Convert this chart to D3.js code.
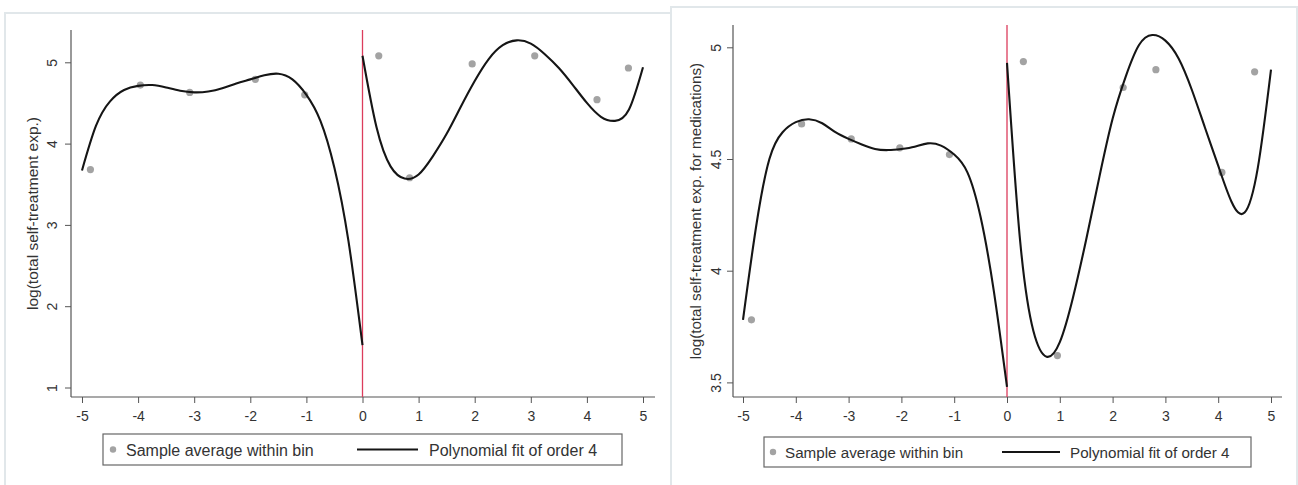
<!DOCTYPE html>
<html>
<head>
<meta charset="utf-8">
<script src="https://cdn.jsdelivr.net/npm/d3@7"></script>
<style>
    body { margin: 0; background: #fff; }
    svg text { font-family: "Liberation Sans", Arial, Helvetica, sans-serif; fill: #333; }
</style>
</head>
<body>
<svg id="chart" width="1298" height="485"></svg>
<script>

// ---- data ----

const xTicks = [-5, -4, -3, -2, -1, 0, 1, 2, 3, 4, 5];
const legendLabels = ["Sample average within bin", "Polynomial fit of order 4"];

// grid where the fitted curves were read
const fitXBelow = [-5, -4.75, -4.5, -4.25, -4, -3.75, -3.5, -3.25, -3, -2.75, -2.5,
    -2.25, -2, -1.75, -1.5, -1.25, -1, -0.75, -0.5, -0.25, 0];
const fitXAbove = [0, 0.25, 0.5, 0.75, 1, 1.25, 1.5, 1.75, 2, 2.25, 2.5,
    2.75, 3, 3.25, 3.5, 3.75, 4, 4.25, 4.5, 4.75, 5];

// panel 1: total self-treatment expenditure
const totalTitle = "log(total self-treatment exp.)";
const totalYTicks = [1, 2, 3, 4, 5];
const totalBinX = [-4.85, -3.96, -3.08, -1.91, -1.03, 0.29, 0.84, 1.955, 3.07, 4.18, 4.74];
const totalBinY = [3.68, 4.72, 4.63, 4.79, 4.60, 5.08, 3.58, 4.98, 5.08, 4.54, 4.93];
const totalFitBelow = [3.67, 4.22, 4.52, 4.66, 4.71, 4.72, 4.69, 4.65, 4.63, 4.64, 4.68,
    4.74, 4.79, 4.84, 4.86, 4.79, 4.60, 4.28, 3.70, 2.80, 1.52];
const totalFitAbove = [5.08, 4.20, 3.72, 3.57, 3.62, 3.84, 4.12, 4.45, 4.77, 5.04, 5.21,
    5.27, 5.23, 5.10, 4.93, 4.72, 4.50, 4.33, 4.28, 4.42, 4.94];

// panel 2: self-treatment expenditure for medications
const medsTitle = "log(total self-treatment exp. for medications)";
const medsYTicks = [3.5, 4, 4.5, 5];
const medsBinX = [-4.84, -3.89, -2.95, -2.03, -1.09, 0.31, 0.955, 2.2, 2.82, 4.07, 4.69];
const medsBinY = [3.78, 4.657, 4.59, 4.55, 4.52, 4.936, 3.62, 4.82, 4.90, 4.44, 4.89];
const medsFitBelow = [3.78, 4.20, 4.50, 4.62, 4.665, 4.678, 4.66, 4.62, 4.59, 4.565, 4.545,
    4.54, 4.545, 4.555, 4.57, 4.56, 4.52, 4.44, 4.24, 3.91, 3.48];
const medsFitAbove = [4.93, 4.13, 3.73, 3.615, 3.68, 3.88, 4.14, 4.42, 4.68, 4.87, 5.01,
    5.055, 5.03, 4.95, 4.81, 4.64, 4.47, 4.31, 4.26, 4.46, 4.90];


class RdPlot {

    constructor(svg, layout, data) {
        this.svg = svg;
        this.layout = layout;
        this.data = data;

        this.initVis();
    }

    initVis() {
        let vis = this;
        const L = vis.layout;

        vis.g = vis.svg.append("g");

        // outer graph region (light frame, white fill)
        vis.g.append("rect")
            .attr("x", L.frame[0])
            .attr("y", L.frame[1])
            .attr("width", L.frame[2])
            .attr("height", L.frame[3])
            .attr("fill", "#fff")
            .attr("stroke", "#e1e7ea")
            .attr("stroke-width", 2);

        // scales
        vis.x = d3.scaleLinear().domain([-5, 5]).range(L.xRange);
        vis.y = d3.scaleLinear().domain(L.yDomain).range(L.yRange);

        vis.wrangleData();
    }

    wrangleData() {
        let vis = this;
        const D = vis.data;

        vis.bins = D.binX.map((x, i) => ({ x: x, y: D.binY[i] }));
        vis.fitBelow = fitXBelow.map((x, i) => ({ x: x, y: D.fitBelow[i] }));
        vis.fitAbove = fitXAbove.map((x, i) => ({ x: x, y: D.fitAbove[i] }));

        vis.updateVis();
    }

    updateVis() {
        let vis = this;
        const L = vis.layout;
        const D = vis.data;

        // x axis (plain hyphen for negatives, like Stata)
        const xAxis = d3.axisBottom(vis.x)
            .tickValues(xTicks)
            .tickSize(6)
            .tickFormat(d => String(d));

        const xg = vis.g.append("g")
            .attr("transform", "translate(0," + L.plotBottom + ")")
            .call(xAxis);
        xg.select(".domain").remove();
        xg.selectAll(".tick line").attr("stroke", "#555");
        xg.selectAll(".tick text")
            .attr("y", L.xLabelY)
            .attr("dy", 0)
            .style("font-size", L.tickFont + "px")
            .style("fill", "#333");

        // y axis, labels turned like in Stata
        const yAxis = d3.axisLeft(vis.y)
            .tickValues(D.yTicks)
            .tickSize(6)
            .tickFormat(d => String(d));

        const yg = vis.g.append("g")
            .attr("transform", "translate(" + L.plotLeft + ",0)")
            .call(yAxis);
        yg.select(".domain").remove();
        yg.selectAll(".tick line").attr("stroke", "#555");
        yg.selectAll(".tick text")
            .attr("transform", "rotate(-90)")
            .attr("x", 0)
            .attr("y", L.yLabelX)
            .attr("dy", 0)
            .style("text-anchor", "middle")
            .style("font-size", L.tickFont + "px")
            .style("fill", "#333");

        // axis lines span the plot region
        vis.g.append("line")
            .attr("x1", L.plotLeft).attr("x2", L.plotRight)
            .attr("y1", L.plotBottom).attr("y2", L.plotBottom)
            .attr("stroke", "#555").attr("stroke-width", 1.2);
        vis.g.append("line")
            .attr("x1", L.plotLeft).attr("x2", L.plotLeft)
            .attr("y1", L.plotTop).attr("y2", L.plotBottom)
            .attr("stroke", "#555").attr("stroke-width", 1.2);

        // y axis title
        vis.g.append("text")
            .attr("transform", "translate(" + L.titleX + "," + ((L.plotTop + L.plotBottom) / 2) + ") rotate(-90)")
            .style("text-anchor", "middle")
            .style("font-size", L.titleFont + "px")
            .text(D.title);

        // cutoff line
        vis.g.append("line")
            .attr("x1", vis.x(0)).attr("x2", vis.x(0))
            .attr("y1", L.plotTop).attr("y2", L.plotBottom)
            .attr("stroke", "#dc3c5c")
            .attr("stroke-width", 1.3);

        // bin averages
        vis.g.selectAll(".bin")
            .data(vis.bins)
            .join("circle")
            .attr("class", "bin")
            .attr("cx", d => vis.x(d.x))
            .attr("cy", d => vis.y(d.y))
            .attr("r", 3.6)
            .attr("fill", "#a3a3a3");

        // polynomial fits on each side of the cutoff
        const line = d3.line()
            .x(d => vis.x(d.x))
            .y(d => vis.y(d.y))
            .curve(d3.curveNatural);

        [vis.fitBelow, vis.fitAbove].forEach(seg => {
            vis.g.append("path")
                .datum(seg)
                .attr("d", line)
                .attr("fill", "none")
                .attr("stroke", "#151515")
                .attr("stroke-width", 2.1);
        });

        // legend
        const lg = vis.g.append("g")
            .attr("transform", "translate(" + L.legend[0] + "," + L.legend[1] + ")");

        lg.append("rect")
            .attr("width", L.legend[2])
            .attr("height", L.legend[3])
            .attr("fill", "#fff")
            .attr("stroke", "#666")
            .attr("stroke-width", 1.2);

        lg.append("circle")
            .attr("cx", L.legendDot)
            .attr("cy", L.legend[3] / 2)
            .attr("r", 3.2)
            .attr("fill", "#a3a3a3");

        lg.append("text")
            .attr("x", L.legendText1)
            .attr("y", L.legendBase)
            .style("font-size", L.legendFont + "px")
            .text(legendLabels[0]);

        lg.append("line")
            .attr("x1", L.legendLine[0]).attr("x2", L.legendLine[1])
            .attr("y1", L.legend[3] / 2).attr("y2", L.legend[3] / 2)
            .attr("stroke", "#151515")
            .attr("stroke-width", 2);

        lg.append("text")
            .attr("x", L.legendText2)
            .attr("y", L.legendBase)
            .style("font-size", L.legendFont + "px")
            .text(legendLabels[1]);
    }
}

const svg = d3.select("#chart");

new RdPlot(svg, {
    frame: [5, 13, 700, 480],
    xRange: [82, 643],
    yDomain: [1, 5],
    yRange: [387.5, 62.3],
    plotLeft: 71, plotRight: 655, plotTop: 30, plotBottom: 397,
    xLabelY: 23.5, yLabelX: -14, tickFont: 14,
    titleX: 38, titleFont: 15.5,
    legend: [103, 434, 519, 31],
    legendDot: 10, legendText1: 23, legendBase: 22,
    legendLine: [254, 315], legendText2: 326, legendFont: 16
}, {
    title: totalTitle, yTicks: totalYTicks,
    binX: totalBinX, binY: totalBinY,
    fitBelow: totalFitBelow, fitAbove: totalFitAbove
});

new RdPlot(svg, {
    frame: [671, 7, 626, 490],
    xRange: [743, 1271],
    yDomain: [3.5, 5],
    yRange: [382.4, 47.3],
    plotLeft: 733, plotRight: 1282, plotTop: 25, plotBottom: 397,
    xLabelY: 23.5, yLabelX: -12, tickFont: 14,
    titleX: 701, titleFont: 15.2,
    legend: [764, 437, 487, 30],
    legendDot: 9, legendText1: 21, legendBase: 20.5,
    legendLine: [238, 296], legendText2: 306, legendFont: 15.2
}, {
    title: medsTitle, yTicks: medsYTicks,
    binX: medsBinX, binY: medsBinY,
    fitBelow: medsFitBelow, fitAbove: medsFitAbove
});

</script>
</body>
</html>
